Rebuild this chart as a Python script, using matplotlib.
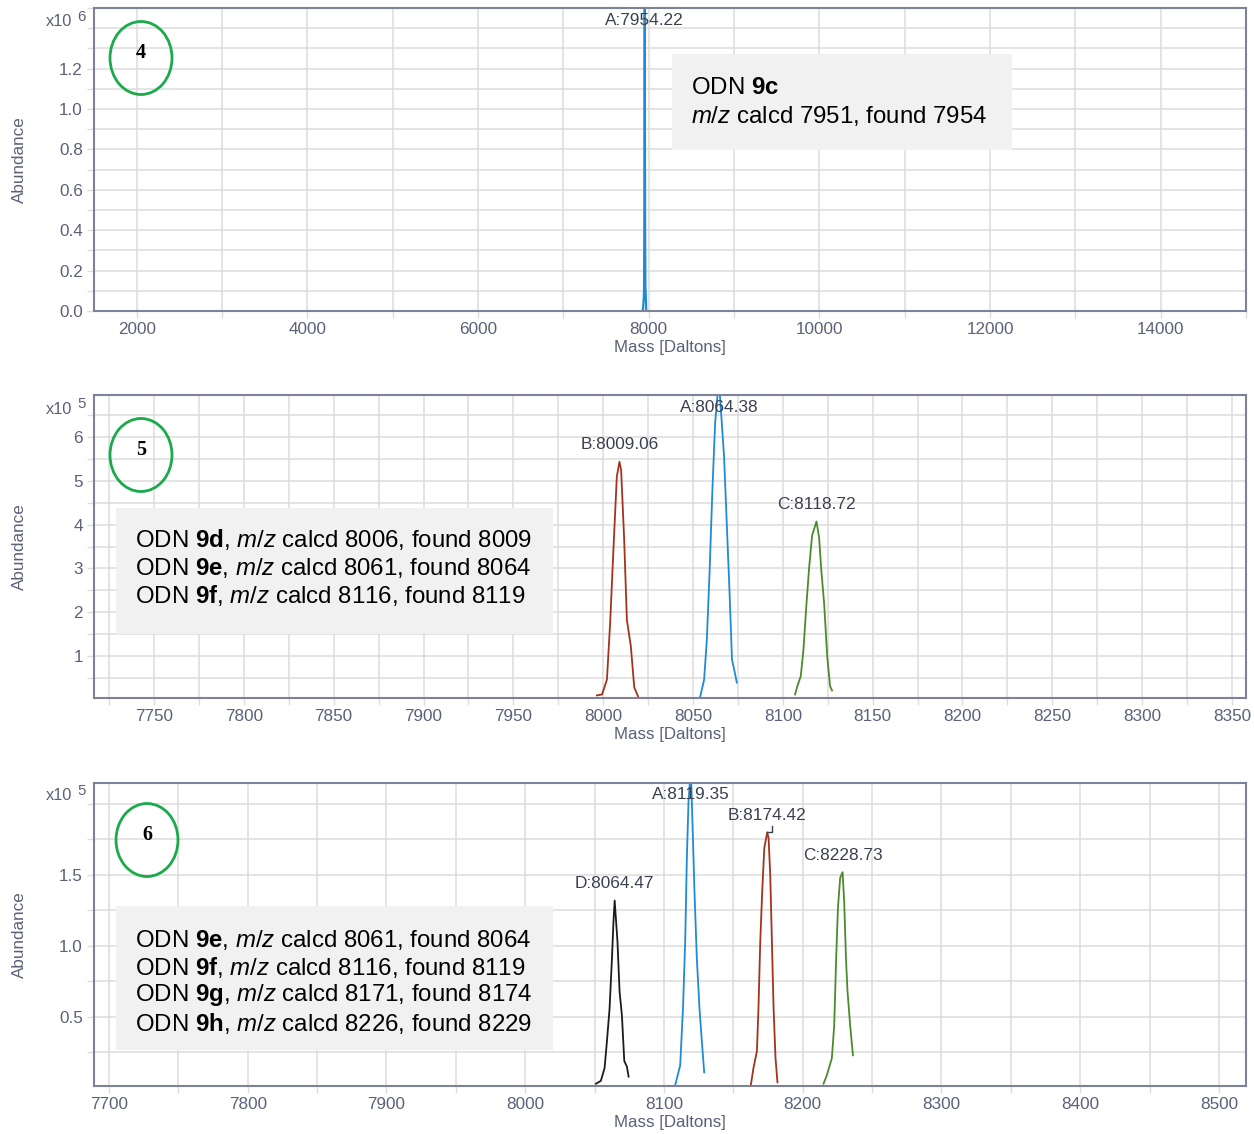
import matplotlib
matplotlib.use("Agg")
import matplotlib.pyplot as plt
from matplotlib.patches import Ellipse, Rectangle
from matplotlib.ticker import MultipleLocator, FixedLocator, NullFormatter

plt.rcParams['font.family'] = ['Liberation Sans', 'DejaVu Sans']
plt.rcParams['mathtext.fontset'] = 'custom'
plt.rcParams['mathtext.rm'] = 'Liberation Sans'
plt.rcParams['mathtext.bf'] = 'Liberation Sans:bold'
plt.rcParams['mathtext.it'] = 'Liberation Sans:italic'

W, H = 1254, 1134

# ---------------- data ----------------
# Panel 4 (abundance x10^6)
p4_A_x = [7930, 7936, 7942, 7946, 7950, 7954.22, 7958, 7962, 7966, 7972]
p4_A_y = [0.0, 0.02, 0.06, 0.10, 0.55, 1.60, 0.45, 0.12, 0.08, 0.0]

# Panel 5 (abundance x10^5)
p5_B_x = [7996.5, 7999.4, 8002.1, 8003.9, 8005.7, 8007.6, 8009.06, 8010.0, 8011.7, 8013.2, 8015.4, 8017.3, 8019.4]
p5_B_y = [0.11, 0.13, 0.47, 1.77, 3.42, 5.09, 5.43, 5.24, 3.65, 1.83, 1.23, 0.29, 0.09]
p5_A_x = [8054.0, 8056.2, 8057.7, 8059.2, 8060.8, 8062.3, 8064.38, 8067.3, 8068.8, 8070.3, 8071.7, 8072.9, 8074.4]
p5_A_y = [0.08, 0.47, 1.38, 2.89, 4.79, 6.30, 7.30, 5.55, 4.02, 2.50, 0.93, 0.70, 0.40]
p5_C_x = [8106.8, 8108.1, 8110.0, 8111.5, 8113.0, 8114.6, 8116.3, 8118.72, 8120.2, 8121.4, 8123.0, 8124.7, 8126.3, 8127.4]
p5_C_y = [0.13, 0.32, 0.55, 1.16, 2.10, 3.00, 3.75, 4.07, 3.70, 2.97, 2.20, 1.00, 0.32, 0.22]

# Panel 6 (abundance x10^5)
p6_D_x = [8051.0, 8054.5, 8057.2, 8058.9, 8060.8, 8062.5, 8063.6, 8064.47, 8066.5, 8068.0, 8069.7, 8071.4, 8073.3, 8074.5]
p6_D_y = [0.03, 0.05, 0.14, 0.33, 0.56, 0.91, 1.17, 1.32, 1.03, 0.68, 0.51, 0.19, 0.15, 0.08]
p6_A_x = [8108.1, 8111.7, 8113.7, 8115.3, 8116.5, 8117.7, 8119.35, 8120.6, 8122.0, 8123.7, 8125.6, 8127.3, 8129.0]
p6_A_y = [0.02, 0.16, 0.56, 1.03, 1.62, 2.02, 2.25, 1.85, 1.38, 0.91, 0.56, 0.33, 0.11]
p6_B_x = [8162.6, 8164.5, 8167.0, 8168.1, 8169.4, 8170.8, 8172.3, 8174.42, 8175.4, 8176.6, 8177.8, 8179.0, 8180.4, 8181.8]
p6_B_y = [0.02, 0.14, 0.26, 0.56, 1.03, 1.38, 1.69, 1.80, 1.76, 1.50, 1.03, 0.56, 0.21, 0.04]
p6_C_x = [8215.0, 8217.4, 8221.0, 8222.7, 8224.1, 8225.4, 8227.0, 8228.73, 8229.9, 8231.2, 8232.3, 8234.2, 8236.2]
p6_C_y = [0.03, 0.09, 0.21, 0.44, 0.91, 1.27, 1.48, 1.52, 1.31, 0.91, 0.68, 0.44, 0.23]

p4_text = [r"ODN $\mathbf{9c}$", r"$\mathit{m/z}$ calcd 7951, found 7954"]
p5_text = [r"ODN $\mathbf{9d}$, $\mathit{m/z}$ calcd 8006, found 8009",
           r"ODN $\mathbf{9e}$, $\mathit{m/z}$ calcd 8061, found 8064",
           r"ODN $\mathbf{9f}$, $\mathit{m/z}$ calcd 8116, found 8119"]
p6_text = [r"ODN $\mathbf{9e}$, $\mathit{m/z}$ calcd 8061, found 8064",
           r"ODN $\mathbf{9f}$, $\mathit{m/z}$ calcd 8116, found 8119",
           r"ODN $\mathbf{9g}$, $\mathit{m/z}$ calcd 8171, found 8174",
           r"ODN $\mathbf{9h}$, $\mathit{m/z}$ calcd 8226, found 8229"]

# ---------------- style ----------------
BLUE = '#1f8ad6'
RED = '#a2331d'
GREEN = '#4b8b2b'
BLACK = '#1c1c1c'
FRAME = '#7d8299'
GRID = '#dcdcdc'
TICKC = '#5b6178'
LABC = '#3b4050'

fig = plt.figure(figsize=(W / 100, H / 100), dpi=100)


def add_axes(px_left, px_top, px_right, px_bottom):
    return fig.add_axes([px_left / W, 1 - px_bottom / H,
                         (px_right - px_left) / W, (px_bottom - px_top) / H])


def style(ax, xlim, ylim, xmaj, xmin, ymaj, ymin, yfmt):
    ax.set_xlim(*xlim)
    ax.set_ylim(*ylim)
    ax.xaxis.set_major_locator(FixedLocator(xmaj))
    ax.xaxis.set_minor_locator(MultipleLocator(xmin))
    ax.yaxis.set_major_locator(FixedLocator(ymaj))
    ax.yaxis.set_minor_locator(MultipleLocator(ymin))
    ax.set_yticklabels([yfmt.format(v) for v in ymaj])
    ax.xaxis.set_minor_formatter(NullFormatter())
    ax.yaxis.set_minor_formatter(NullFormatter())
    ax.grid(True, which='both', color=GRID, linewidth=1.1)
    ax.set_axisbelow(True)
    ax.tick_params(which='both', length=5, color=GRID, width=1.0,
                   labelsize=12.3, labelcolor=TICKC, pad=3)
    for s in ax.spines.values():
        s.set_color(FRAME)
        s.set_linewidth(1.5)
    ax.set_xlabel('Mass [Daltons]', fontsize=12.2, color=TICKC, labelpad=2)
    ax.set_ylabel('Abundance', fontsize=12.3, color=TICKC)
    ax.yaxis.set_label_coords(-0.058, 0.5)


def text_box(ax, px_box, lines, px_first, px_left, spacing):
    l, t, r, b = px_box
    fig.add_artist(Rectangle((l / W, 1 - b / H), (r - l) / W, (b - t) / H,
                             transform=fig.transFigure, facecolor='#f1f1f1',
                             edgecolor='none', zorder=3))
    for i, s in enumerate(lines):
        fig.text(px_left / W, 1 - (px_first + i * spacing) / H, s,
                 fontsize=17.3, color='black', ha='left', va='center', zorder=4)


def circle(cx, cy, num):
    fig.add_artist(Ellipse((cx / W, 1 - cy / H), 62 / W, 73 / H,
                           transform=fig.transFigure, facecolor='none',
                           edgecolor='#1aaa4a', linewidth=2.0, zorder=5))
    fig.text(cx / W, 1 - (cy - 5) / H, num, family='Liberation Serif',
             fontweight='bold', fontsize=14.5, ha='center', va='center', zorder=6)


def power(px_y, exp):
    fig.text(72 / W, 1 - px_y / H, 'x10', fontsize=11.8, color=TICKC,
             ha='right', va='center')
    fig.text(77 / W, 1 - (px_y - 5) / H, exp, fontsize=10.8, color=TICKC,
             ha='left', va='center')


def peak_label(ax, x, y, s, clipped):
    if clipped:
        ax.annotate(s, xy=(x, 1), xycoords=('data', 'axes fraction'),
                    xytext=(0, -8.8), textcoords='offset points',
                    ha='center', va='center', fontsize=12.4, color=LABC,
                    annotation_clip=False, zorder=4)
    else:
        ax.annotate(s, xy=(x, y), xytext=(0, 12.2), textcoords='offset points',
                    ha='center', va='center', fontsize=12.4, color=LABC, zorder=4)


# ---------------- panel 4 ----------------
ax1 = add_axes(94, 8, 1246, 311)
style(ax1, (1500, 15000), (0, 1.5), list(range(2000, 15000, 2000)), 1000,
      [0, 0.2, 0.4, 0.6, 0.8, 1.0, 1.2], 0.1, '{:.1f}')
ax1.plot(p4_A_x, p4_A_y, color=BLUE, lw=1.6, zorder=2)
peak_label(ax1, 7954.22, 1.6, 'A:7954.22', True)

# ---------------- panel 5 ----------------
ax2 = add_axes(94, 395, 1246, 698)
style(ax2, (7716.6, 8357.8), (0.05, 6.95), list(range(7750, 8351, 50)), 25,
      [1, 2, 3, 4, 5, 6], 0.5, '{:.0f}')
ax2.plot(p5_B_x, p5_B_y, color=RED, lw=1.3, zorder=2)
ax2.plot(p5_A_x, p5_A_y, color=BLUE, lw=1.3, zorder=2)
ax2.plot(p5_C_x, p5_C_y, color=GREEN, lw=1.3, zorder=2)
peak_label(ax2, 8009.06, max(p5_B_y), 'B:8009.06', False)
peak_label(ax2, 8064.38, max(p5_A_y), 'A:8064.38', True)
peak_label(ax2, 8118.72, max(p5_C_y), 'C:8118.72', False)

# ---------------- panel 6 ----------------
ax3 = add_axes(94, 782.7, 1246, 1086)
style(ax3, (7689.2, 8519.5), (0.014, 2.15), list(range(7700, 8501, 100)), 50,
      [0.5, 1.0, 1.5], 0.25, '{:.1f}')
ax3.plot(p6_D_x, p6_D_y, color=BLACK, lw=1.3, zorder=2)
ax3.plot(p6_A_x, p6_A_y, color=BLUE, lw=1.3, zorder=2)
ax3.plot(p6_B_x, p6_B_y, color=RED, lw=1.3, zorder=2)
ax3.plot(p6_C_x, p6_C_y, color=GREEN, lw=1.3, zorder=2)
peak_label(ax3, 8064.47, max(p6_D_y), 'D:8064.47', False)
peak_label(ax3, 8119.35, max(p6_A_y), 'A:8119.35', True)
peak_label(ax3, 8174.42, max(p6_B_y), 'B:8174.42', False)
peak_label(ax3, 8228.73, max(p6_C_y), 'C:8228.73', False)
# small leader from label B to its peak
bx, by = 8174.42, max(p6_B_y)
ax3.plot([bx, bx + 3.4, bx + 3.4], [by, by, by + 0.045], color=LABC, lw=1.0, zorder=3)

# ---------------- decorations ----------------
text_box(ax1, (672, 54, 1012, 150), p4_text, 88, 691, 28)
text_box(ax2, (116, 508, 553, 634), p5_text, 540, 135, 28)
text_box(ax3, (116, 906, 553, 1050), p6_text, 940, 135, 27.7)

circle(141, 58, '4')
circle(141, 455, '5')
circle(147, 840, '6')

power(22, '6')
power(409, '5')
power(796, '5')

fig.savefig('out.png', dpi=100)
